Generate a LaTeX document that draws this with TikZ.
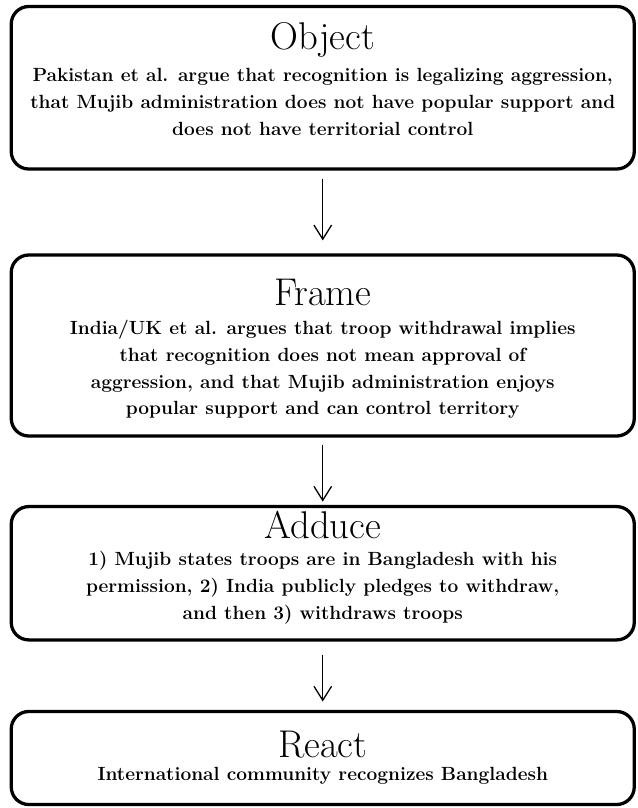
\documentclass[tikz,border=0pt]{standalone}
\usetikzlibrary{arrows.meta}
\tikzset{>={Straight Barb[length=12pt,width=15pt]}}
\tikzset{card/.style={draw, line width=2.8pt, rounded corners=15pt, minimum width=18.69cm,
    align=center, inner sep=0pt, text depth=0pt, font=\fontsize{16.3}{23}\selectfont\bfseries}}
\tikzset{flow/.style={->, line width=1.1pt}}
\newcommand{\cardhead}[2]{{\fontsize{33}{38}\mdseries\selectfont #1}\\[#2]}

\begin{document}
\begin{tikzpicture}[x=0.03cm, y=-0.03cm]
    \useasboundingbox(0, 0)rectangle(637, 808);
    \node[card, minimum height=4.875cm, text height=80.7pt](obj) at(322.75, 87.75){\cardhead{Object}{4.3pt}
        Pakistan et al. argue that recognition is legalizing aggression,\\
        that Mujib administration does not have popular support and\\
        does not have territorial control};
    \node[card, minimum height=5.43cm, text height=118.6pt](frm) at(322.75, 345.5){\cardhead{Frame}{1.8pt}
        India/UK et al. argues that troop withdrawal implies\\
        that recognition does not mean approval of\\
        aggression, and that Mujib administration enjoys\\
        popular support and can control territory};
    \node[card, minimum height=4cm, text height=78.1pt](add) at(322.75, 573.25){\cardhead{Adduce}{0pt}
        1) Mujib states troops are in Bangladesh with his\\
        permission, 2) India publicly pledges to withdraw,\\
        and then 3) withdraws troops};
    \node[card, minimum height=2.79cm, text height=37.6pt](rct) at(322.75, 758){\cardhead{React}{-3.4pt}
        International community recognizes Bangladesh};
    \draw[flow, shorten <=0.24cm, shorten >=0.39cm](obj)--(frm);
    \draw[flow, shorten <=0.21cm, shorten >=0.1cm](frm)--(add);
    \draw[flow, shorten <=0.39cm, shorten >=0.25cm](add)--(rct);
\end{tikzpicture}
\end{document}
